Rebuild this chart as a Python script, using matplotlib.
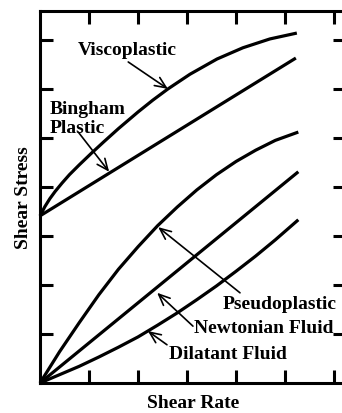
import matplotlib
matplotlib.use("Agg")
import matplotlib.pyplot as plt

# curves (x = shear rate, y = shear stress, tick units)
visco_x = [0, 0.1, 0.2, 0.31, 0.45, 0.6, 0.8, 1.04, 1.3, 1.6, 2.0, 2.3, 2.61,
           3.06, 3.61, 4.14, 4.69, 5.24]
visco_y = [3.41, 3.60, 3.76, 3.91, 4.08, 4.25, 4.45, 4.68, 4.92, 5.19, 5.53,
           5.77, 6.00, 6.30, 6.61, 6.84, 7.02, 7.14]

bingham_x = [0, 5.22]
bingham_y = [3.41, 6.63]

pseudo_x = [0, 0.4, 0.8, 1.2, 1.6, 2.0, 2.4, 2.8, 3.2, 3.6, 4.0, 4.4, 4.8, 5.27]
pseudo_y = [0, 0.64, 1.23, 1.80, 2.32, 2.78, 3.21, 3.59, 3.94, 4.25, 4.52,
            4.75, 4.95, 5.12]

newton_x = [0, 5.27]
newton_y = [0, 4.31]

dilat_x = [0, 0.4, 0.8, 1.2, 1.6, 2.0, 2.4, 2.8, 3.2, 3.6, 4.0, 4.4, 4.8, 5.27]
dilat_y = [0, 0.17, 0.34, 0.53, 0.73, 0.94, 1.18, 1.43, 1.70, 1.98, 2.28,
           2.59, 2.92, 3.33]

# labels: text, text position, arrow tail, arrow head
labels = ["Viscoplastic", "Bingham\nPlastic", "Pseudoplastic", "Newtonian Fluid", "Dilatant Fluid"]
label_pos = [(0.78, 6.71), (0.20, 5.12), (3.73, 1.53), (3.14, 1.04), (2.63, 0.51)]
arrow_tail = [(1.80, 6.55), (0.78, 5.12), (4.08, 1.84), (3.12, 1.16), (2.59, 0.78)]
arrow_head = [(2.61, 6.00), (1.41, 4.31), (2.41, 3.18), (2.39, 1.84), (2.20, 1.06)]

plt.rcParams["font.family"] = ["Liberation Serif", "DejaVu Serif"]
plt.rcParams["font.weight"] = "bold"

fig = plt.figure(figsize=(3.42, 4.14), dpi=100)
ax = fig.add_axes([0.117, 0.0725, 0.895, 0.8985])

for xs, ys in [(visco_x, visco_y), (bingham_x, bingham_y), (pseudo_x, pseudo_y),
               (newton_x, newton_y), (dilat_x, dilat_y)]:
    ax.plot(xs, ys, color="black", lw=2.3, solid_capstyle="butt",
            solid_joinstyle="round", clip_on=False)

for txt, (tx, ty), tail, head in zip(labels, label_pos, arrow_tail, arrow_head):
    ax.text(tx, ty, txt, fontsize=14, fontweight="bold", va="baseline",
            ha="left", linespacing=1.12)
    ax.annotate("", xy=head, xytext=tail,
                arrowprops=dict(arrowstyle="->,head_length=0.8,head_width=0.35",
                                color="black", lw=1.2, shrinkA=0, shrinkB=0))

ax.set_xlim(0, 6.245)
ax.set_ylim(0, 7.59)
ax.set_xticks(range(1, 7))
ax.set_yticks(range(1, 8))
ax.tick_params(direction="in", length=9.4, width=2.2, top=True, right=True,
               labelbottom=False, labelleft=False)
for s in ax.spines.values():
    s.set_linewidth(2.2)

ax.set_xlabel("Shear Rate", fontsize=14, fontweight="bold", labelpad=8)
ax.set_ylabel("Shear Stress", fontsize=14, fontweight="bold", labelpad=6)

fig.savefig("out.png", dpi=100)
